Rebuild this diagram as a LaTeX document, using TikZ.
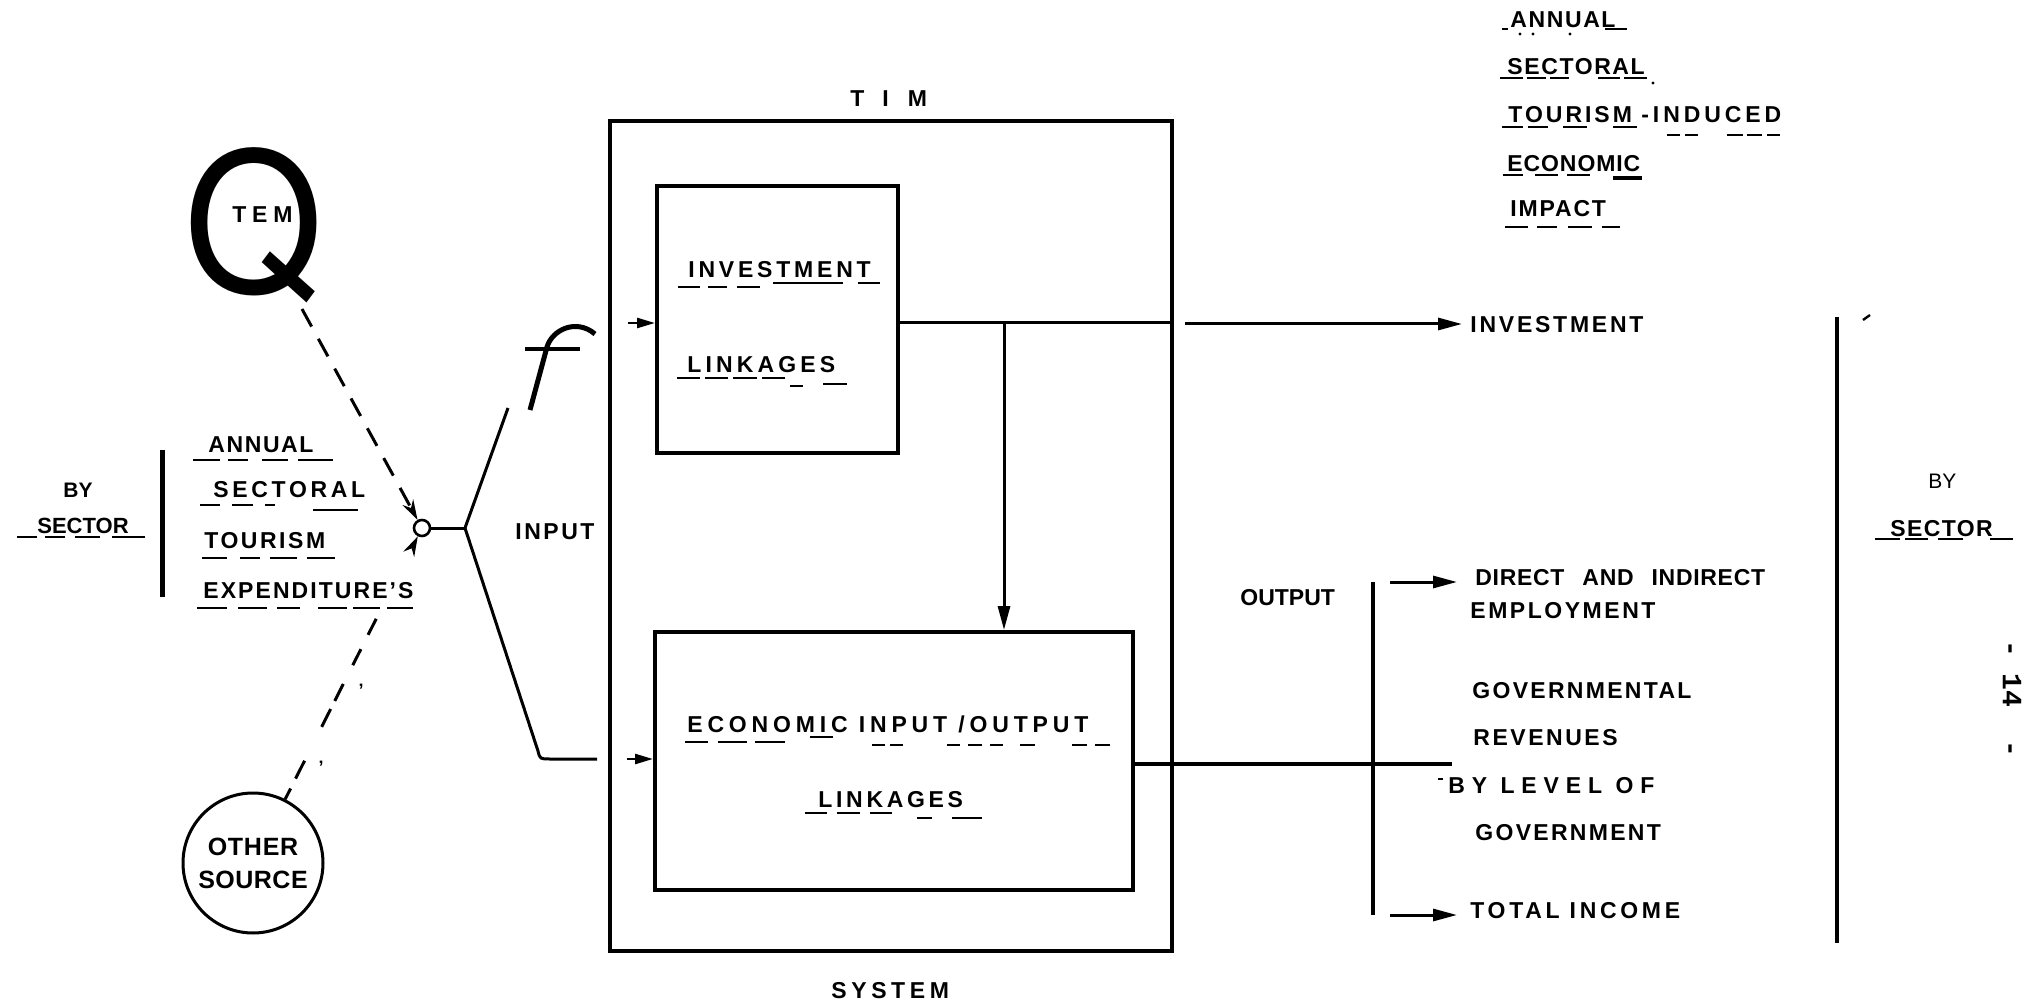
\documentclass[tikz,border=0pt]{standalone}
\usepackage{fontspec}
\setmainfont{Liberation Sans}
\newfontfamily\qfont{TeX Gyre Heros}
\newfontfamily\monof{Liberation Mono}
\usetikzlibrary{arrows.meta}
\newcommand{\LSp}[1]{\addfontfeature{LetterSpace=#1}}
\begin{document}
\begin{tikzpicture}[x=0.5pt,y=-0.5pt,
  lbl/.style={inner sep=0pt, anchor=base west, font=\fontsize{11.5}{13}\selectfont\bfseries},
  ul/.style={line width=1.3pt},
  boxln/.style={draw, line width=2pt, inner sep=0pt},
  conn/.style={line width=1.5pt},
  arrL/.style={line width=1.5pt, -{Triangle[length=12pt,width=6pt]}},
  arrS/.style={line width=1.3pt, -{Triangle[length=9pt,width=5pt]}},
  dashq/.style={line width=1.5pt, dash pattern=on 10pt off 7pt, -{Stealth[length=10pt,width=6pt]}},
  dasho/.style={line width=1.5pt, dash pattern=on 6pt off 5.5pt on 10pt off 19pt on 10pt off 4.5pt on 9.5pt off 10.5pt on 9pt off 8pt on 9pt off 60pt, -{Stealth[length=10pt,width=6pt]}},
  bar/.style={line width=2.5pt}
]
\useasboundingbox (0,0) rectangle (2035,1005);

% ---------- main boxes ----------
\node[draw, line width=1.75pt, minimum width=281pt, minimum height=415pt, inner sep=0pt] (tim) at (891,536) {};
\node[boxln, minimum width=120.5pt, minimum height=133.5pt] (inv) at (777.5,319.5) {};
\node[boxln, minimum width=239pt, minimum height=129pt] (econ) at (894,761) {};

\node[lbl] (timl) at (850,107) {T\hspace{9pt}I\hspace{9.5pt}M};
\node[lbl] (sys) at (831,998) {\LSp{20}SYSTEM};

\node[lbl] (inv1) at (688,278) {\LSp{16.5}INVESTMENT};
\node[lbl] (inv2) at (687,373) {\LSp{18}LINKAGES};
\node[lbl] (eco1) at (687,732) {\LSp{21}ECONOMIC INPUT /OUTPUT};
\node[lbl] (eco2) at (818,807) {\LSp{16}LINKAGES};

% underlines in boxes
\foreach \a/\b in {678/700,708/727,737/760} \draw[ul] (\a,287) -- (\b,287);
\foreach \a/\b in {773/843,858/880} \draw[ul] (\a,283) -- (\b,283);
\foreach \a/\b in {677/700,705/728,733/757,762/785} \draw[ul] (\a,378) -- (\b,378);
\draw[ul] (790,386) -- (803,386);
\draw[ul] (823,384) -- (847,384);
\foreach \a/\b in {685/708,718/747,755/785} \draw[ul] (\a,742) -- (\b,742);
\draw[ul] (810,737) -- (833,737);
\foreach \a/\b in {872/885,890/903,947/960,968/982,990/1003,1020/1035,1072/1087,1095/1110} \draw[ul] (\a,745) -- (\b,745);
\foreach \a/\b in {805/827,837/860,870/892} \draw[ul] (\a,813) -- (\b,813);
\foreach \a/\b in {917/932,952/982} \draw[ul] (\a,818) -- (\b,818);

% ---------- connectors inside ----------
\coordinate (invy) at (0,323);
\coordinate (invin) at (628,323);
\coordinate (ecoin) at (627,759);
\draw[arrS] (invin) -- (invin -| inv.west);
\draw[arrS] (ecoin) -- (ecoin -| econ.west);
\draw[conn] (inv.east |- invy) -- (tim.east |- invy);
\coordinate (vtop) at (1004,323);
\draw[arrL] (vtop) -- (vtop |- econ.north);

% ---------- output side ----------
\coordinate (oinvs) at (1185,324);
\coordinate (oinve) at (1462,324);
\draw[arrL] (oinvs) -- (oinve);
\node[lbl] (oinv) at (1470,333) {\LSp{12}INVESTMENT};

\coordinate (ecoout) at (1452,764);
\draw[line width=2pt] (econ.east |- ecoout) -- (ecoout);
\coordinate (ob1) at (1373,582);
\coordinate (ob2) at (1373,915);
\draw[line width=2pt] (ob1) -- (ob2);
\coordinate (a1s) at (1390,582);
\coordinate (a1e) at (1457,582);
\coordinate (a2s) at (1390,915);
\coordinate (a2e) at (1457,915);
\draw[arrL] (a1s) -- (a1e);
\draw[arrL] (a2s) -- (a2e);

\node[lbl] (outl) at (1240,605) {OUTPUT};
\node[lbl] (dir) at (1475,585) {\LSp{3}DIRECT\hspace{9pt}AND\hspace{9pt}INDIRECT};
\node[lbl] (emp) at (1470,618) {\LSp{11}EMPLOYMENT};
\node[lbl] (gov1) at (1472,698) {\LSp{10}GOVERNMENTAL};
\node[lbl] (rev) at (1473,745) {\LSp{11}REVENUES};
\node[lbl] (lev) at (1448,793) {\LSp{30}BY LEVEL OF};
\draw[line width=1pt] (1438,779) -- (1443,779);
\node[lbl] (gov2) at (1475,840) {\LSp{10}GOVERNMENT};
\node[lbl] (tot) at (1470,918) {\LSp{16}TOTAL INCOME};

% right bracket
\coordinate (rb1) at (1837,317);
\coordinate (rb2) at (1837,943);
\draw[line width=2.25pt] (rb1) -- (rb2);
\draw[line width=1.2pt] (1863,320) -- (1870,315);
\node[lbl, font=\fontsize{10.5}{12}\selectfont] (by2) at (1928,488) {BY};
\node[lbl] (sec2) at (1890,537) {\LSp{6}SECTOR};
\foreach \a/\b in {1875/1900,1905/1928,1938/1963,1990/2013} \draw[ul] (\a,539) -- (\b,539);

\node[rotate=-90, inner sep=0pt, font=\monof\bfseries\fontsize{14}{14}\selectfont] (pg) at (2012,699) {-\ 14\ \ -};

% ---------- top right block ----------
\node[lbl] (t1) at (1510,28) {\LSp{7}ANNUAL};
\node[lbl] (t2) at (1507,75) {\LSp{7}SECTORAL};
\node[lbl] (t3) at (1508,123) {\LSp{13}TOURISM};
\node[lbl] (t3b) at (1641,123) {\LSp{17}-INDUCED};
\node[lbl] (t4) at (1507,172) {\LSp{4}ECONOMIC};
\node[lbl] (t5) at (1510,217) {\LSp{8}IMPACT};
\draw[ul] (1502,29) -- (1508,29);
\draw[ul] (1605,29) -- (1627,29);
\foreach \a in {1520,1533,1570} \fill (\a,34) circle (1.6);
\foreach \a/\b in {1500/1523,1527/1546,1550/1569,1598/1620,1624/1647} \draw[ul] (\a,78) -- (\b,78);
\fill (1653,83) circle (1.6);
\foreach \a/\b in {1502/1523,1528/1548,1563/1587,1613/1637} \draw[ul] (\a,127) -- (\b,127);
\foreach \a/\b in {1667/1680,1685/1698,1727/1743,1747/1762,1767/1780} \draw[ul] (\a,135) -- (\b,135);
\foreach \a/\b in {1503/1523,1535/1558,1567/1590} \draw[ul] (\a,175) -- (\b,175);
\draw[line width=1.8pt] (1613,178) -- (1642,178);
\foreach \a/\b in {1505/1528,1537/1557,1568/1592,1602/1620} \draw[ul] (\a,227) -- (\b,227);

% ---------- left side ----------
\node[inner sep=0pt, anchor=base west, font=\qfont\fontsize{97}{97}\selectfont] (qq) at (184,293) {\scalebox{0.92}[1]{Q}};
\node[lbl] (tem) at (232,223) {\LSp{25}TEM};

\node[lbl] (l1) at (208,452) {\LSp{7}ANNUAL};
\node[lbl] (l2) at (213,498) {\LSp{16}SECTORAL};
\node[lbl] (l3) at (204,548) {\LSp{11}TOURISM};
\node[lbl] (l4) at (203,598) {\LSp{9}EXPENDITURE’S};
\foreach \a/\b in {193/220,228/248,262/288,298/333} \draw[ul] (\a,460) -- (\b,460);
\foreach \a/\b in {200/220,232/253,265/275} \draw[ul] (\a,505) -- (\b,505);
\draw[ul] (313,510) -- (358,510);
\foreach \a/\b in {202/227,240/260,270/297,307/335} \draw[ul] (\a,558) -- (\b,558);
\foreach \a/\b in {197/227,238/267,277/300,318/347,353/380,387/413} \draw[ul] (\a,608) -- (\b,608);

\coordinate (lb1) at (162,450);
\coordinate (lb2) at (162,597);
\draw[bar] (lb1) -- (lb2);
\node[lbl, font=\fontsize{10.5}{12}\selectfont\bfseries] (by1) at (63,498) {BY};
\node[lbl, font=\fontsize{11}{12}\selectfont\bfseries] (sec1) at (37,533) {SECTOR};
\foreach \a/\b in {17/37,45/65,75/100,112/145} \draw[ul] (\a,537) -- (\b,537);

% mixing point and input fork
\node[circle, draw, line width=1.3pt, minimum size=8pt, inner sep=0pt] (mix) at (422,528) {};
\coordinate (qs) at (302,309);
\draw[dashq] (qs) -- (mix);
\node[circle, draw, line width=1.5pt, minimum size=70pt, inner sep=0pt, align=center,
      font=\fontsize{12.5}{16.5}\selectfont\bfseries] (src) at (253,863) {\LSp{3}OTHER\\\LSp{2}SOURCE};
\draw[dasho] (src) -- (mix);
\node[inner sep=0pt, font=\fontsize{9}{9}\selectfont\bfseries] (ap1) at (361,690) {’};
\node[inner sep=0pt, font=\fontsize{9}{9}\selectfont\bfseries] (ap2) at (321,767) {’};

\coordinate (jn) at (465,528);
\coordinate (upend) at (508,408);
\coordinate (lowbend) at (538,751);
\coordinate (lowend) at (597,759);
\draw[conn] (mix) -- (jn);
\draw[conn] (jn) -- (upend);
\draw[conn] (jn) -- (lowbend) .. controls (540,759) .. (550,759) -- (lowend);
\node[lbl] (inp) at (515,539) {\LSp{11}INPUT};

% the f
\draw[line width=2.5pt] (530,410) -- (547,347) .. controls (552,330) and (576,318) .. (595,334);
\draw[line width=2pt] (525,349) -- (580,349);
\end{tikzpicture}
\end{document}
